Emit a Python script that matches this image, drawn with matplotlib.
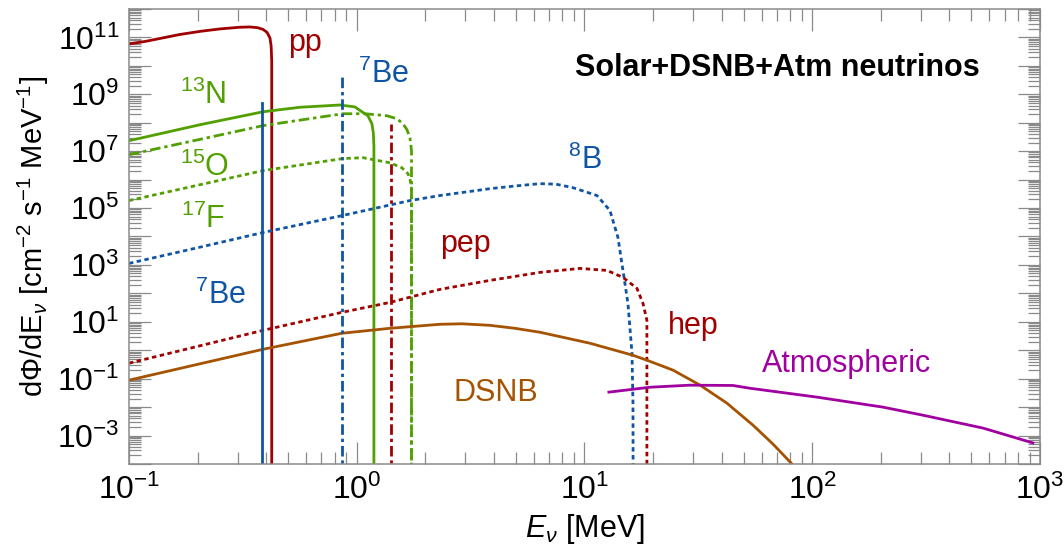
import numpy as np
import matplotlib
matplotlib.use("Agg")
import matplotlib.pyplot as plt
from matplotlib.ticker import FixedLocator, LogLocator, FuncFormatter, NullFormatter

plt.rcParams["font.family"] = ["Liberation Sans", "DejaVu Sans"]
plt.rcParams["mathtext.fontset"] = "custom"
plt.rcParams["mathtext.rm"] = "Liberation Sans"
plt.rcParams["mathtext.it"] = "Liberation Sans:italic"
plt.rcParams["mathtext.bf"] = "Liberation Sans:bold"

# colores
RED = "#a00000"
BLUE = "#0f55a3"
GREEN = "#52a000"
BROWN = "#a55300"
MAGENTA = "#a000a0"

# """ Datos (E en MeV, flujo en cm^-2 s^-1 MeV^-1) """
pp_E = [0.1, 0.1176, 0.137, 0.1675, 0.205, 0.251, 0.307, 0.340, 0.368, 0.388,
        0.404, 0.416, 0.421, 0.4235, 0.4235]
pp_F = [5.9e10, 7.2e10, 9.2e10, 1.27e11, 1.63e11, 1.99e11, 2.28e11, 2.33e11, 2.19e11,
        1.91e11, 1.5e11, 9.6e10, 5.0e10, 1.5e10, 1e-6]

n13_E = [0.1, 0.205, 0.388, 0.564, 0.844, 0.982, 1.065, 1.12, 1.166, 1.184, 1.19, 1.19]
n13_F = [2.33e7, 8.5e7, 2.43e8, 3.5e8, 4.2e8, 3.6e8, 2.3e8, 1.76e8, 9.2e7, 4.1e7, 1.5e7, 1e-6]

o15_E = [0.1, 0.205, 0.388, 0.87, 1.087, 1.357, 1.503, 1.596, 1.662, 1.713, 1.74, 1.74]
o15_F = [7.5e6, 2.6e7, 7.9e7, 2.07e8, 2.07e8, 1.76e8, 1.38e8, 9.2e7, 5.7e7, 2.95e7, 1.05e7, 1e-6]

f17_E = [0.1, 0.205, 0.388, 0.87, 1.065, 1.40, 1.58, 1.68, 1.713, 1.74, 1.74]
f17_F = [1.83e5, 6.6e5, 2.07e6, 5.5e6, 5.9e6, 3.9e6, 2.6e6, 1.6e6, 1.08e6, 5e5, 1e-6]

b8_E = [0.1, 0.205, 0.388, 0.87, 1.713, 2.32, 3.85, 5.0, 6.38, 7.5, 8.9, 11.35, 12.94,
        14.03, 14.76, 15.52, 16.17, 16.33, 16.35, 16.35]
b8_F = [1.13e3, 4.2e3, 1.38e4, 5.5e4, 1.83e5, 2.75e5, 4.8e5, 6.0e5, 7.2e5, 6.9e5, 5.2e5,
        2.75e5, 8.2e4, 9.2e3, 6.4e2, 44.6, 0.785, 0.0138, 1e-4, 1e-6]

hep_E = [0.1, 0.388, 0.861, 1.40, 2.32, 3.85, 6.38, 9.55, 12.56, 14.76, 17.0,
         18.07, 18.8, 18.8]
hep_F = [0.35, 5.0, 21.5, 48, 138, 286, 546, 753, 641, 364, 150, 44.6, 11.3, 1e-6]

dsnb_E = [0.1, 0.388, 0.861, 1.40, 2.32, 2.9, 3.85, 4.95, 6.38, 8.21, 10.57, 16.3,
          18.8, 24.5, 32.2, 42.2, 54.9, 67.3, 81.5, 84.0]
dsnb_F = [0.0886, 1.08, 3.95, 5.9, 8.17, 8.5, 7.5, 5.9, 4.28, 2.75, 1.76, 0.668,
          0.446, 0.199, 0.059, 0.0138, 2.33e-3, 5.0e-4, 1e-4, 4e-5]

atm_E = [12.8, 19.4, 29.0, 44.9, 53.3, 105, 204, 306, 562, 931]
atm_F = [0.0336, 0.050, 0.059, 0.0576, 0.046, 0.0224, 0.01, 0.0052, 0.00183, 5.5e-4]

# lineas monoenergeticas
be7_E = [0.385, 0.862]
be7_F = [5.1e8, 4.5e9]
pep_E = 1.41
pep_F = 9.2e7

DOT = (1.6, 1.25)
DASHDOT = (3.8, 1.4, 1.2, 1.4)
LW = 2.0

fig = plt.figure(figsize=(10.64, 5.54), dpi=100)
ax = fig.add_axes([0.1212, 0.1625, 0.8562, 0.8213])
ax.set_xscale("log")
ax.set_yscale("log")
ax.set_xlim(0.1, 1000)
ax.set_ylim(1e-4, 1e12)

ymin = ax.get_ylim()[0] * 1e-2

# """ Curvas """
ax.plot(pp_E, pp_F, color=RED, lw=LW)
ax.plot(n13_E, n13_F, color=GREEN, lw=LW)
ax.plot(o15_E, o15_F, color=GREEN, lw=LW, dashes=DASHDOT)
ax.plot(f17_E, f17_F, color=GREEN, lw=LW, dashes=DOT)
ax.plot(b8_E, b8_F, color=BLUE, lw=LW, dashes=DOT)
ax.plot(hep_E, hep_F, color=RED, lw=LW, dashes=DOT)
ax.plot(dsnb_E, dsnb_F, color=BROWN, lw=LW)
ax.plot(atm_E, atm_F, color=MAGENTA, lw=LW)

ax.plot([be7_E[0], be7_E[0]], [ymin, be7_F[0]], color=BLUE, lw=LW)
ax.plot([be7_E[1], be7_E[1]], [ymin, be7_F[1]], color=BLUE, lw=LW, dashes=DASHDOT)
ax.plot([pep_E, pep_E], [ymin, pep_F], color=RED, lw=LW, dashes=DASHDOT)

# """ Etiquetas """
FS = 22
ax.text(0.50, 6.5e10, "pp", color=RED, fontsize=FS, va="center")
ax.text(1.01, 5.2e9, r"$^{7}$Be", color=BLUE, fontsize=FS, va="center")
ax.text(0.167, 9.5e8, r"$^{13}$N", color=GREEN, fontsize=FS, va="center")
ax.text(0.167, 2.6e6, r"$^{15}$O", color=GREEN, fontsize=FS, va="center")
ax.text(0.170, 4.0e4, r"$^{17}$F", color=GREEN, fontsize=FS, va="center")
ax.text(0.195, 85, r"$^{7}$Be", color=BLUE, fontsize=FS, va="center")
ax.text(8.45, 4.7e6, r"$^{8}$B", color=BLUE, fontsize=FS, va="center")
ax.text(2.32, 5.6e3, "pep", color=RED, fontsize=FS, va="center")
ax.text(23.3, 6.9, "hep", color=RED, fontsize=FS, va="center")
ax.text(2.65, 0.031, "DSNB", color=BROWN, fontsize=FS, va="center")
ax.text(60, 0.32, "Atmospheric", color=MAGENTA, fontsize=FS, va="center")
ax.text(0.49, 0.870, "Solar+DSNB+Atm neutrinos", transform=ax.transAxes,
        fontsize=22, fontweight="bold", va="center")

# """ Ejes """
ax.xaxis.set_major_locator(FixedLocator([1e-1, 1e0, 1e1, 1e2, 1e3]))
ax.xaxis.set_minor_locator(LogLocator(base=10, subs=np.arange(2, 10), numticks=20))
ax.xaxis.set_minor_formatter(NullFormatter())
ax.xaxis.set_major_formatter(FuncFormatter(lambda v, p: r"$10^{%d}$" % round(np.log10(v))))

ax.yaxis.set_major_locator(FixedLocator([10.0 ** k for k in range(-4, 13)]))
ax.yaxis.set_minor_locator(LogLocator(base=10, subs=np.arange(2, 10), numticks=40))
ax.yaxis.set_minor_formatter(NullFormatter())


def ylab(v, p):
    k = int(round(np.log10(v)))
    if k % 2 != 0:
        return r"$10^{%d}$" % k
    return ""


ax.yaxis.set_major_formatter(FuncFormatter(ylab))

ax.tick_params(which="both", direction="in", top=True, right=True,
               color="#8a8a8a", width=0.9, labelsize=23)
ax.tick_params(which="major", length=15.5)
ax.tick_params(which="minor", length=8.5)
ax.tick_params(axis="x", pad=8)
ax.tick_params(axis="y", pad=7)
for s in ax.spines.values():
    s.set_color("#8a8a8a")
    s.set_linewidth(1.1)

ax.set_xlabel(r"$E_\nu$ [MeV]", fontsize=22, labelpad=4)
ax.set_ylabel(r"d$\Phi$/dE$_\nu$ [cm$^{-2}$ s$^{-1}$ MeV$^{-1}$]", fontsize=21, labelpad=4)

plt.savefig("out.png", dpi=100)
